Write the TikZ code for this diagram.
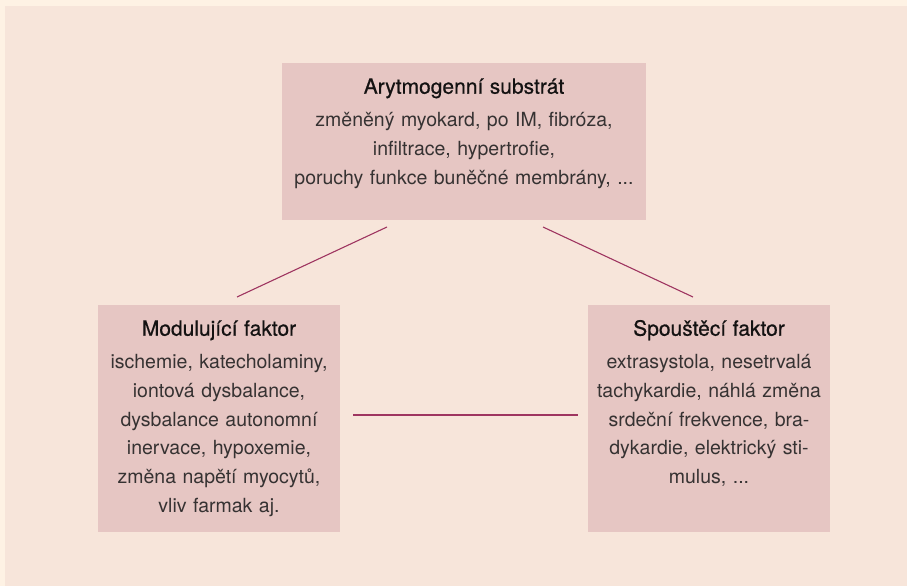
\documentclass[tikz,border=0pt]{standalone}
\usepackage{fontspec}
\setmainfont{TeX Gyre Heros}
\newfontfamily\titlefont{TeX Gyre Heros}[FakeBold=0.6]
\definecolor{outerbg}{HTML}{FEF2E4}
\definecolor{bg}{HTML}{F7E5DA}
\definecolor{boxfill}{HTML}{E6C6C3}
\definecolor{linec}{HTML}{9E3560}
\definecolor{bodytext}{HTML}{363232}
\definecolor{titletext}{HTML}{141212}
\tikzset{
  pinkbox/.style={fill=boxfill, draw=none, inner sep=0pt, rectangle},
  boxtext/.style={anchor=north, inner sep=0pt, align=center, text width=360pt,
     font=\fontsize{19.5}{28.9}\selectfont, text=bodytext},
  conn/.style={draw=linec, line width=1.1pt},
}
\newcommand{\boxtitle}[1]{\rule{0pt}{20pt}{\titlefont\fontsize{21}{28.9}\selectfont\color{titletext}#1}\\[3.6pt]}
\begin{document}
\begin{tikzpicture}[x=1pt,y=-1pt]
\useasboundingbox (0,0) rectangle (907,586);
\fill[outerbg] (0,0) rectangle (907,586);
\fill[bg] (5,6) rectangle (907,586);
% boxes
\node[pinkbox, minimum width=364pt, minimum height=157pt] (top) at (464,141.5) {};
\node[pinkbox, minimum width=242pt, minimum height=227pt] (left) at (219,418.5) {};
\node[pinkbox, minimum width=242pt, minimum height=227pt] (right) at (709,418.5) {};
% texts
\node[boxtext] (toptext) at (464,73.5) {\boxtitle{Arytmogenní substrát}změněný myokard, po IM, fibróza,\\ infiltrace, hypertrofie,\\ poruchy funkce buněčné membrány, ...};
\node[boxtext] (lefttext) at (219,315.5) {\boxtitle{Modulující faktor}ischemie, katecholaminy,\\ iontová dysbalance,\\ dysbalance autonomní\\ inervace, hypoxemie,\\ změna napětí myocytů,\\ vliv farmak aj.};
\node[boxtext] (righttext) at (709,315.5) {\boxtitle{Spouštěcí faktor}extrasystola, nesetrvalá\\ tachykardie, náhlá změna\\ srdeční frekvence, bra-\\ dykardie, elektrický sti-\\ mulus, ...};
% connector end points
\coordinate (tl1) at (387,227);
\coordinate (tl2) at (237,297);
\coordinate (tr1) at (543,227);
\coordinate (tr2) at (693,297);
\coordinate (h1) at (353,415);
\coordinate (h2) at (578,415);
\draw[conn] (tl1) -- (tl2);
\draw[conn] (tr1) -- (tr2);
\draw[conn] (h1) -- (h2);
\end{tikzpicture}
\end{document}
